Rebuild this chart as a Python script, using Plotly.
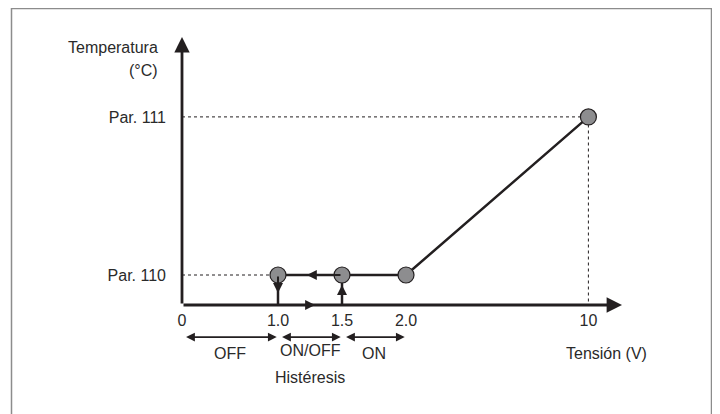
import plotly.graph_objects as go

# Schematic diagram: the tension axis is not to scale, so each voltage label
# gets a position along the drawn axis (in 0.5 V steps of the 1.5–2.0 zone).
tension_labels = ["0", "1.0", "1.5", "2.0", "10"]
tension_pos = [0, 1.5, 2.5, 3.5, 6.35]

param_labels = ["Par. 110", "Par. 111"]
param_pos = [1, 6.27]

# control curve: voltage -> temperature setpoint
curve_v = ["1.0", "1.5", "2.0", "10"]
curve_t = ["Par. 110", "Par. 110", "Par. 110", "Par. 111"]

# zones below the axis
zone_names = ["OFF", "ON/OFF", "ON"]
zone_from = ["0", "1.0", "1.5"]
zone_to = ["1.0", "1.5", "2.0"]

INK = "#231f20"
TEXT = "#2a2a2a"
FONT = "Liberation Sans, Arial, sans-serif"
FS = 16

# the page body adds an 8px margin, so the figure is a bit smaller than the window
W, H = 712, 406
OX, OY = 174, 297           # origin of the drawn axes, in figure pixels
UX, UY = 64, 30             # pixels per schematic unit

xpos = dict(zip(tension_labels, tension_pos))
ypos = dict(zip(param_labels, param_pos))

X_RANGE = [-OX / UX, (W - OX) / UX]
Y_RANGE = [(OY - H) / UY, OY / UY]
X_END = 6.875
Y_END = 8.93

cx = [xpos[v] for v in curve_v]
cy = [ypos[t] for t in curve_t]
x_on, x_off = xpos["1.0"], xpos["1.5"]
y_low = ypos["Par. 110"]

fig = go.Figure()

# dotted guides
fig.add_trace(go.Scatter(x=[0, cx[0]], y=[cy[0], cy[0]], mode="lines",
                         line=dict(color=INK, width=1, dash="dot"), hoverinfo="skip"))
fig.add_trace(go.Scatter(x=[0, cx[-1], cx[-1]], y=[cy[-1], cy[-1], 0], mode="lines",
                         line=dict(color=INK, width=1, dash="dot"), hoverinfo="skip"))

# hysteresis drops
for xv in [x_on, x_off]:
    fig.add_trace(go.Scatter(x=[xv, xv], y=[y_low, 0], mode="lines",
                             line=dict(color=INK, width=2.5), hoverinfo="skip"))

# curve
fig.add_trace(go.Scatter(x=cx, y=cy, mode="lines",
                         line=dict(color=INK, width=2.5), hoverinfo="skip"))
fig.add_trace(go.Scatter(x=cx, y=cy, mode="markers", cliponaxis=False,
                         marker=dict(size=16, color="#8d8d8f",
                                     line=dict(color=INK, width=1.2)),
                         hoverinfo="skip"))


def arrow(x, y, ax, ay, width=2.5, size=1.0, side="end"):
    fig.add_annotation(x=x, y=y, ax=ax, ay=ay, xref="x", yref="y",
                       axref="x", ayref="y", text="", showarrow=True,
                       arrowhead=2, arrowsize=size, arrowwidth=width,
                       arrowcolor=INK, arrowside=side, standoff=0, startstandoff=0)


def label(x, y, text, **kw):
    fig.add_annotation(x=x, y=y, text=text, showarrow=False,
                       font=dict(family=FONT, size=FS, color=TEXT), **kw)


# axes
arrow(0, Y_END, 0, 0, width=2.8, size=1.1)
arrow(X_END, 0, 0, 0, width=2.8, size=1.1)

# direction arrows on the hysteresis loop
arrow((x_on + x_off) / 2 - 0.05, y_low, x_off, y_low, width=2, size=1.0)
arrow((x_on + x_off) / 2 + 0.08, 0, x_on, 0, width=2, size=1.0)
arrow(x_on, 0.4, x_on, y_low, width=2, size=1.0)
arrow(x_off, 0.67, x_off, 0.05, width=2, size=1.0)

# zone arrows and labels
for name, a, b in zip(zone_names, zone_from, zone_to):
    x0, x1 = xpos[a] + 0.04, xpos[b] - 0.02
    arrow(x1, -1.07, x0, -1.07, width=1.6, size=1.1, side="end+start")
    label((xpos[a] + xpos[b]) / 2, -1.5 if name == "ON/OFF" else -1.6, name)

label((x_on + x_off) / 2, -2.4, "Histéresis")
label(6.64, -1.6, "Tensión (V)")
label(-0.344, 8.6, "Temperatura", xanchor="right")
label(-0.344, 7.83, "(°C)", xanchor="right")

# frame
fig.add_shape(type="rect", xref="paper", yref="paper",
              x0=3.5 / W, x1=703.5 / W, y0=-0.05, y1=1 - 0.5 / H,
              line=dict(color="#8c8c8c", width=1.5))

fig.update_layout(
    width=W, height=H,
    margin=dict(l=0, r=0, t=0, b=0),
    paper_bgcolor="white", plot_bgcolor="white",
    showlegend=False,
    font=dict(family=FONT, size=FS, color=TEXT),
    xaxis=dict(range=X_RANGE, showgrid=False, zeroline=False, showline=False,
               tickvals=tension_pos, ticktext=tension_labels, ticks="",
               anchor="free", position=(0 - Y_RANGE[0]) / (Y_RANGE[1] - Y_RANGE[0]),
               ticklabelstandoff=4, fixedrange=True),
    yaxis=dict(range=Y_RANGE, showgrid=False, zeroline=False, showline=False,
               tickvals=param_pos, ticktext=param_labels, ticks="",
               anchor="free", position=(0 - X_RANGE[0]) / (X_RANGE[1] - X_RANGE[0]),
               ticklabelstandoff=16, fixedrange=True),
)

fig.write_html("out.html")
